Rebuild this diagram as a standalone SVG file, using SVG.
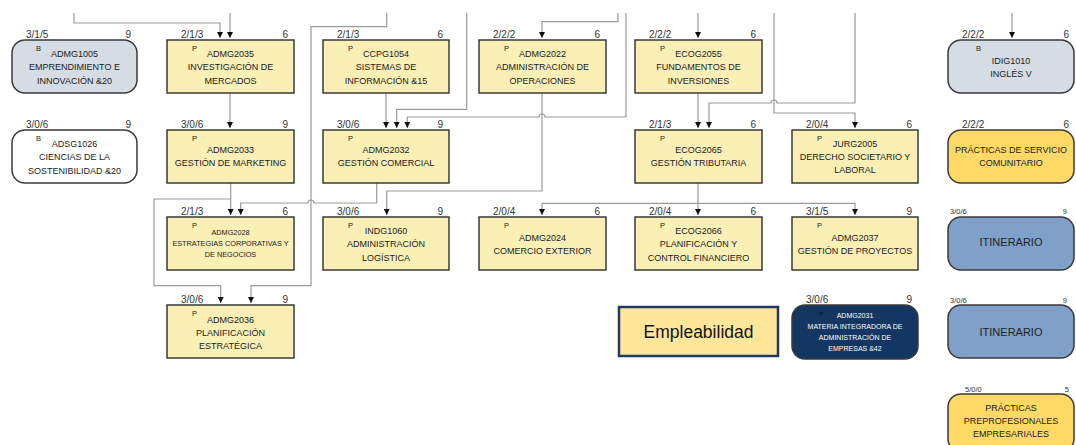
<svg xmlns="http://www.w3.org/2000/svg" width="1076" height="445" viewBox="0 0 1076 445">
<style>
text{font-family:"Liberation Sans",Arial,sans-serif;fill:#222}
.box{fill:#FAEFB4;stroke:#3a3a3a;stroke-width:1.5}
.rb{stroke:#3a3a3a;stroke-width:1.5}
.t{font-size:9px;text-anchor:middle}
.ts{font-size:7.3px;text-anchor:middle}
.tag{font-size:7.5px}
.l{font-size:10px;fill:#333}
.ls{font-size:7.5px;fill:#333}
.e{text-anchor:end}
.conn{fill:none;stroke:#9a9a9a;stroke-width:1.2}
.arr{marker-end:url(#ah)}
</style>
<defs>
<marker id="ah" markerUnits="userSpaceOnUse" markerWidth="6" markerHeight="6" viewBox="0 0 6 6" refX="6" refY="3" orient="auto">
<path d="M0,0 L6,3 L0,6 z" fill="#111"/>
</marker>
</defs>

<g id="connectors">
<path class="conn arr" d="M74,13 V23 H220 V38"/>
<path class="conn arr" d="M230,13 V38"/>
<path class="conn arr" d="M230,93 V128"/>
<path class="conn arr" d="M386.7,13 V26.7 H311 V285.7 H251 V303"/>
<path class="conn arr" d="M466.7,13 V109.3 H396.7 V128"/>
<path class="conn arr" d="M626,13 V117 H545 A3,3 0 0 0 539,117 H407.3 V128"/>
<path class="conn arr" d="M386,93 V128"/>
<path class="conn arr" d="M618,13 V21.7 H542 V38"/>
<path class="conn arr" d="M542,93 V191 H386.7 V215"/>
<path class="conn arr" d="M698,13 V38"/>
<path class="conn arr" d="M698,93 V128"/>
<path class="conn arr" d="M855,13 V103 H777 A3,3 0 0 0 771,103 H709 V128"/>
<path class="conn arr" d="M774,13 V113 H855 V128"/>
<path class="conn arr" d="M698,183 V215"/>
<path class="conn arr" d="M698,203.3 H542 V215"/>
<path class="conn arr" d="M698,203.3 H855 V215"/>
<path class="conn arr" d="M376.7,183 V203 H314 A3,3 0 0 0 308,203 H240.7 V215"/>
<path class="conn arr" d="M230.7,183 V215"/>
<path class="conn arr" d="M230.7,199 H154 V285.7 H220.7 V303"/>
<path class="conn arr" d="M1012,13 V38"/>
</g>

<g id="ADMG1005">
<rect class="rb" x="12" y="40" width="125" height="53" rx="13" fill="#D6DCE4"/>
<text class="l" x="26" y="37.5">3/1/5</text><text class="l e" x="131" y="37.5">9</text>
<text class="tag" x="36" y="51">B</text>
<text class="t" x="74.5" y="56.5">ADMG1005</text>
<text class="t" x="74.5" y="70">EMPRENDIMIENTO E</text>
<text class="t" x="74.5" y="83.5">INNOVACIÓN &amp;20</text>
</g>

<g id="ADSG1026">
<rect class="rb" x="12" y="130" width="125" height="53" rx="13" fill="#FFFFFF"/>
<text class="l" x="26" y="127.5">3/0/6</text><text class="l e" x="131" y="127.5">9</text>
<text class="tag" x="36" y="141">B</text>
<text class="t" x="74.5" y="146.5">ADSG1026</text>
<text class="t" x="74.5" y="160">CIENCIAS DE LA</text>
<text class="t" x="74.5" y="173.5">SOSTENIBILIDAD &amp;20</text>
</g>

<g id="ADMG2035">
<rect class="box" x="167" y="40" width="127" height="53"/>
<text class="l" x="181" y="37.5">2/1/3</text><text class="l e" x="288" y="37.5">6</text>
<text class="tag" x="192" y="51">P</text>
<text class="t" x="230.5" y="56.5">ADMG2035</text>
<text class="t" x="230.5" y="70">INVESTIGACIÓN DE</text>
<text class="t" x="230.5" y="83.5">MERCADOS</text>
</g>

<g id="ADMG2033">
<rect class="box" x="167" y="130" width="127" height="53"/>
<text class="l" x="181" y="127.5">3/0/6</text><text class="l e" x="288" y="127.5">9</text>
<text class="tag" x="192" y="141">P</text>
<text class="t" x="230.5" y="152.5">ADMG2033</text>
<text class="t" x="230.5" y="165.5">GESTIÓN DE MARKETING</text>
</g>

<g id="ADMG2028">
<rect class="box" x="167" y="217" width="127" height="53"/>
<text class="l" x="181" y="214.5">2/1/3</text><text class="l e" x="288" y="214.5">6</text>
<text class="tag" x="192" y="228">P</text>
<text class="ts" x="230.5" y="235">ADMG2028</text>
<text class="ts" x="230.5" y="246">ESTRATEGIAS CORPORATIVAS Y</text>
<text class="ts" x="230.5" y="257">DE NEGOCIOS</text>
</g>

<g id="ADMG2036">
<rect class="box" x="167" y="305" width="127" height="53"/>
<text class="l" x="181" y="302.5">3/0/6</text><text class="l e" x="288" y="302.5">9</text>
<text class="tag" x="192" y="316">P</text>
<text class="t" x="230.5" y="322.5">ADMG2036</text>
<text class="t" x="230.5" y="335.5">PLANIFICACIÓN</text>
<text class="t" x="230.5" y="348.5">ESTRATÉGICA</text>
</g>

<g id="CCPG1054">
<rect class="box" x="323" y="40" width="126" height="53"/>
<text class="l" x="337" y="37.5">2/1/3</text><text class="l e" x="443" y="37.5">6</text>
<text class="tag" x="348" y="51">P</text>
<text class="t" x="386" y="56.5">CCPG1054</text>
<text class="t" x="386" y="70">SISTEMAS DE</text>
<text class="t" x="386" y="83.5">INFORMACIÓN &amp;15</text>
</g>

<g id="ADMG2032">
<rect class="box" x="323" y="130" width="126" height="53"/>
<text class="l" x="337" y="127.5">3/0/6</text><text class="l e" x="443" y="127.5">9</text>
<text class="tag" x="348" y="141">P</text>
<text class="t" x="386" y="152.5">ADMG2032</text>
<text class="t" x="386" y="165.5">GESTIÓN COMERCIAL</text>
</g>

<g id="INDG1060">
<rect class="box" x="323" y="217" width="126" height="53"/>
<text class="l" x="337" y="214.5">3/0/6</text><text class="l e" x="443" y="214.5">9</text>
<text class="tag" x="348" y="228">P</text>
<text class="t" x="386" y="233.5">INDG1060</text>
<text class="t" x="386" y="247">ADMINISTRACIÓN</text>
<text class="t" x="386" y="260.5">LOGÍSTICA</text>
</g>

<g id="ADMG2022">
<rect class="box" x="479" y="40" width="127" height="53"/>
<text class="l" x="493" y="37.5">2/2/2</text><text class="l e" x="600" y="37.5">6</text>
<text class="tag" x="504" y="51">P</text>
<text class="t" x="542.5" y="56.5">ADMG2022</text>
<text class="t" x="542.5" y="70">ADMINISTRACIÓN DE</text>
<text class="t" x="542.5" y="83.5">OPERACIONES</text>
</g>

<g id="ADMG2024">
<rect class="box" x="479" y="217" width="127" height="53"/>
<text class="l" x="493" y="214.5">2/0/4</text><text class="l e" x="600" y="214.5">6</text>
<text class="tag" x="504" y="228">P</text>
<text class="t" x="542.5" y="240.5">ADMG2024</text>
<text class="t" x="542.5" y="253.5">COMERCIO EXTERIOR</text>
</g>

<g id="ECOG2055">
<rect class="box" x="635" y="40" width="127" height="53"/>
<text class="l" x="649" y="37.5">2/2/2</text><text class="l e" x="756" y="37.5">6</text>
<text class="tag" x="660" y="51">P</text>
<text class="t" x="698.5" y="56.5">ECOG2055</text>
<text class="t" x="698.5" y="70">FUNDAMENTOS DE</text>
<text class="t" x="698.5" y="83.5">INVERSIONES</text>
</g>

<g id="ECOG2065">
<rect class="box" x="635" y="130" width="127" height="53"/>
<text class="l" x="649" y="127.5">2/1/3</text><text class="l e" x="756" y="127.5">6</text>
<text class="tag" x="660" y="141">P</text>
<text class="t" x="698.5" y="152.5">ECOG2065</text>
<text class="t" x="698.5" y="165.5">GESTIÓN TRIBUTARIA</text>
</g>

<g id="ECOG2066">
<rect class="box" x="635" y="217" width="127" height="53"/>
<text class="l" x="649" y="214.5">2/0/4</text><text class="l e" x="756" y="214.5">6</text>
<text class="tag" x="660" y="228">P</text>
<text class="t" x="698.5" y="233.5">ECOG2066</text>
<text class="t" x="698.5" y="247">PLANIFICACIÓN Y</text>
<text class="t" x="698.5" y="260.5">CONTROL FINANCIERO</text>
</g>

<g id="JURG2005">
<rect class="box" x="792" y="130" width="126" height="53"/>
<text class="l" x="806" y="127.5">2/0/4</text><text class="l e" x="912" y="127.5">6</text>
<text class="tag" x="817" y="141">P</text>
<text class="t" x="855" y="146.5">JURG2005</text>
<text class="t" x="855" y="159.5">DERECHO SOCIETARIO Y</text>
<text class="t" x="855" y="172.5">LABORAL</text>
</g>

<g id="ADMG2037">
<rect class="box" x="792" y="217" width="126" height="53"/>
<text class="l" x="806" y="214.5">3/1/5</text><text class="l e" x="912" y="214.5">9</text>
<text class="tag" x="817" y="228">P</text>
<text class="t" x="855" y="240.5">ADMG2037</text>
<text class="t" x="855" y="253.5">GESTIÓN DE PROYECTOS</text>
</g>

<g id="ADMG2031">
<rect class="rb" x="792" y="305" width="126" height="54" rx="13" fill="#133663"/>
<text class="l" x="806" y="302.5">3/0/6</text><text class="l e" x="912" y="302.5">9</text>
<text x="819" y="316" style="font-size:6px;fill:#0a0a0a">P</text>
<text class="ts" x="855" y="318" style="fill:#fff;font-size:7px">ADMG2031</text>
<text class="ts" x="855" y="329" style="fill:#fff;font-size:7px">MATERIA INTEGRADORA DE</text>
<text class="ts" x="855" y="340" style="fill:#fff;font-size:7px">ADMINISTRACIÓN DE</text>
<text class="ts" x="855" y="351.3" style="fill:#fff;font-size:7px">EMPRESAS &amp;42</text>
</g>

<g id="Empleabilidad">
<rect x="619" y="307" width="159" height="49" fill="#FFE699" stroke="#1F3864" stroke-width="2.5"/>
<text x="698.5" y="337.5" style="font-size:17.5px;text-anchor:middle;fill:#111">Empleabilidad</text>
</g>

<g id="IDIG1010">
<rect class="rb" x="948" y="40" width="126" height="53" rx="13" fill="#D6DCE4"/>
<text class="l" x="962" y="37.5">2/2/2</text><text class="l e" x="1069" y="37.5">6</text>
<text class="tag" x="976" y="51">B</text>
<text class="t" x="1011" y="63.5">IDIG1010</text>
<text class="t" x="1011" y="76.5">INGLÉS V</text>
</g>

<g id="PracticasServicio">
<rect class="rb" x="948" y="130" width="126" height="53" rx="13" fill="#FFD966"/>
<text class="l" x="962" y="127.5">2/2/2</text><text class="l e" x="1069" y="127.5">6</text>
<text class="t" x="1011" y="152.5">PRÁCTICAS DE SERVICIO</text>
<text class="t" x="1011" y="165.5">COMUNITARIO</text>
</g>

<g id="Itinerario1">
<rect class="rb" x="948" y="217" width="126" height="53" rx="13" fill="#7FA1C9"/>
<text class="ls" x="950" y="214">3/0/6</text><text class="ls e" x="1067" y="214">9</text>
<text x="1011" y="246" style="font-size:11px;text-anchor:middle">ITINERARIO</text>
</g>

<g id="Itinerario2">
<rect class="rb" x="948" y="305" width="126" height="53" rx="13" fill="#7FA1C9"/>
<text class="ls" x="950" y="302.5">3/0/6</text><text class="ls e" x="1067" y="302.5">9</text>
<text x="1011" y="335.5" style="font-size:11px;text-anchor:middle">ITINERARIO</text>
</g>

<g id="PracticasPreprofesionales">
<rect class="rb" x="948" y="394" width="126" height="58" rx="13" fill="#FFD966"/>
<text class="ls" x="965" y="391.5">5/0/0</text><text class="ls e" x="1069" y="391.5">5</text>
<text class="t" x="1011" y="410.7">PRÁCTICAS</text>
<text class="t" x="1011" y="424">PREPROFESIONALES</text>
<text class="t" x="1011" y="437.3">EMPRESARIALES</text>
</g>
</svg>
